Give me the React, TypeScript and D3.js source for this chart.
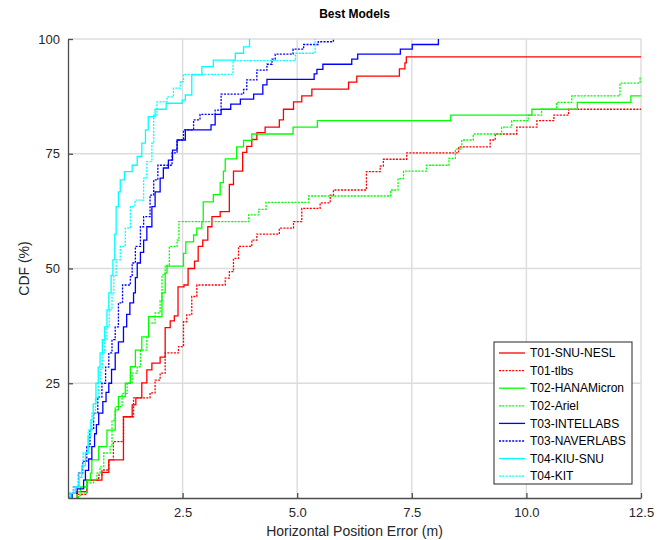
import React, { useEffect, useRef } from "react";
import * as d3 from "d3";

// step points: error (m) and CDF (%)
const snuNeslErr = [0.20, 0.20, 0.41, 0.74, 0.89, 1.21, 1.40, 1.48, 1.61, 1.72, 1.83, 2.01, 2.12, 2.23, 2.32, 2.40, 2.53, 2.62, 2.76, 2.84, 2.94, 3.05, 3.14, 3.32, 3.52, 3.61, 3.81, 3.90, 4.01, 4.12, 4.30, 4.61, 4.70, 4.92, 5.10, 5.32, 6.12, 6.30, 7.23, 7.35, 7.38, 12.6];
const snuNeslCdf = [0, 1.4, 3.9, 5.6, 8.3, 17.7, 20.3, 21.8, 25.1, 27.9, 29.4, 30.7, 37.1, 38.6, 39.7, 46.0, 46.4, 50.0, 51.6, 54.8, 56.2, 59.1, 61.3, 62.4, 68.3, 71.2, 75.3, 76.6, 78.1, 79.6, 80.8, 82.4, 84.7, 86.3, 87.6, 89.1, 90.6, 91.9, 93.5, 94.8, 96.1, 96.1];

const tlbsErr = [0.22, 0.22, 0.41, 0.67, 0.74, 0.89, 0.99, 1.21, 1.43, 1.79, 1.90, 2.01, 2.12, 2.41, 2.52, 2.59, 2.70, 2.81, 3.43, 3.52, 3.61, 3.72, 4.01, 4.12, 4.61, 4.92, 5.10, 5.50, 5.72, 5.79, 6.51, 6.81, 6.88, 7.39, 8.52, 9.21, 9.32, 9.79, 10.23, 10.60, 10.92, 12.6];
const tlbsCdf = [0, 0.8, 3.9, 5.0, 6.1, 8.3, 12.3, 17.7, 21.8, 22.9, 25.7, 27.2, 31.6, 33.0, 38.4, 39.9, 43.9, 46.4, 47.9, 49.3, 52.2, 54.8, 56.2, 57.5, 58.8, 60.2, 63.1, 64.3, 66.0, 67.1, 71.1, 72.3, 73.8, 75.2, 76.5, 78.0, 79.3, 80.8, 82.2, 83.4, 84.7, 84.7];

const hanaErr = [0.20, 0.20, 0.27, 0.41, 0.49, 0.52, 0.67, 0.85, 1.03, 1.10, 1.25, 1.36, 1.47, 1.61, 1.76, 2.05, 2.12, 2.16, 2.52, 2.57, 2.74, 2.81, 2.92, 2.95, 3.17, 3.32, 3.39, 3.43, 3.68, 3.83, 4.01, 4.91, 5.44, 8.35, 10.12, 11.11, 12.28, 12.6];
const hanaCdf = [0, 1.4, 2.4, 3.9, 5.4, 8.3, 11.2, 14.8, 19.2, 22.1, 25.0, 28.6, 32.2, 35.1, 39.5, 44.7, 49.0, 50.5, 53.3, 55.8, 57.3, 58.8, 60.2, 64.5, 66.1, 68.7, 71.2, 73.9, 76.5, 77.9, 79.3, 80.8, 82.2, 83.4, 84.7, 86.2, 87.6, 87.6];

const arielErr = [0.23, 0.23, 0.27, 0.41, 0.56, 0.63, 0.70, 0.78, 0.92, 0.96, 1.03, 1.18, 1.29, 1.40, 1.51, 1.58, 1.72, 1.76, 1.90, 2.01, 2.05, 2.12, 2.21, 2.38, 2.42, 3.94, 4.16, 4.32, 5.25, 7.04, 7.20, 7.32, 7.82, 8.31, 8.45, 8.59, 8.84, 9.46, 9.68, 10.04, 10.33, 10.66, 10.99, 12.04, 12.48, 12.6];
const arielCdf = [0, 0.5, 1.1, 3.3, 3.9, 5.4, 6.8, 9.8, 11.2, 16.9, 19.9, 22.8, 25.1, 27.2, 28.6, 32.2, 35.0, 38.1, 40.3, 43.0, 48.6, 50.7, 54.8, 56.2, 60.2, 61.7, 62.9, 64.4, 65.8, 67.1, 69.6, 71.2, 72.5, 74.0, 76.0, 78.0, 79.3, 80.8, 82.2, 83.4, 84.7, 86.2, 87.6, 90.4, 91.7, 91.7];

const intelErr = [0.09, 0.09, 0.20, 0.34, 0.38, 0.45, 0.52, 0.58, 0.62, 0.67, 0.76, 0.83, 0.89, 0.95, 1.03, 1.10, 1.21, 1.28, 1.35, 1.43, 1.47, 1.51, 1.58, 1.65, 1.72, 1.83, 1.90, 2.01, 2.08, 2.19, 2.28, 2.38, 2.56, 3.12, 3.21, 3.34, 3.55, 3.76, 4.05, 4.25, 4.34, 5.37, 5.43, 5.56, 6.19, 6.32, 7.25, 7.51, 8.08];
const intelCdf = [0, 1.0, 2.0, 3.9, 6.0, 8.5, 11.2, 14.0, 16.0, 18.5, 21.0, 23.0, 25.0, 28.0, 31.6, 34.0, 37.3, 40.0, 42.5, 44.7, 48.0, 51.2, 53.5, 56.2, 59.1, 63.5, 66.7, 69.7, 71.9, 73.6, 75.8, 78.0, 80.2, 81.3, 83.6, 84.7, 85.8, 86.9, 88.0, 90.0, 91.2, 92.4, 93.4, 94.5, 95.6, 96.7, 97.8, 98.8, 100];

const naverErr = [0.05, 0.05, 0.12, 0.23, 0.32, 0.41, 0.48, 0.56, 0.65, 0.74, 0.82, 0.89, 0.96, 1.03, 1.10, 1.19, 1.36, 1.40, 1.47, 1.58, 1.65, 1.79, 1.87, 1.96, 2.27, 2.38, 2.52, 2.74, 2.88, 3.21, 3.34, 3.83, 3.90, 4.12, 4.34, 4.45, 4.52, 4.91, 5.14, 5.46, 5.79];
const naverCdf = [0, 1.0, 2.4, 5.4, 8.0, 11.2, 15.0, 18.5, 22.0, 25.0, 28.5, 31.6, 34.5, 37.3, 42.5, 46.4, 48.2, 51.2, 54.8, 59.1, 61.3, 66.0, 69.3, 72.5, 75.2, 78.0, 80.2, 82.4, 83.6, 84.5, 88.0, 89.0, 91.1, 93.2, 94.5, 95.6, 96.7, 97.8, 98.8, 99.4, 100];

const kiuErr = [0.05, 0.05, 0.16, 0.24, 0.30, 0.38, 0.44, 0.50, 0.55, 0.61, 0.66, 0.70, 0.75, 0.80, 0.85, 0.89, 0.94, 0.98, 1.02, 1.05, 1.10, 1.14, 1.23, 1.40, 1.51, 1.61, 1.69, 1.75, 1.90, 2.14, 2.49, 2.56, 2.70, 2.92, 3.17, 3.65, 3.83, 3.96];
const kiuCdf = [0, 1.0, 2.4, 4.5, 7.0, 9.8, 13.5, 17.0, 20.5, 25.0, 28.5, 31.6, 34.5, 37.3, 41.0, 44.7, 48.5, 51.9, 57.5, 63.5, 66.7, 69.3, 71.1, 72.5, 74.4, 77.3, 80.2, 83.1, 84.7, 86.0, 86.7, 87.8, 92.2, 94.0, 95.4, 96.9, 98.3, 100];

const kitErr = [0.05, 0.05, 0.12, 0.22, 0.33, 0.44, 0.52, 0.60, 0.67, 0.71, 0.75, 0.80, 0.85, 0.90, 0.96, 1.00, 1.05, 1.14, 1.25, 1.36, 1.46, 1.65, 1.72, 1.83, 1.87, 1.94, 2.16, 2.30, 2.45, 2.52, 3.60, 4.96, 5.39];
const kitCdf = [0, 1.0, 2.4, 5.4, 9.8, 14.8, 18.5, 21.8, 25.0, 28.0, 31.6, 34.5, 37.3, 41.0, 44.7, 48.5, 51.9, 54.8, 58.8, 63.5, 64.9, 69.7, 73.3, 77.3, 83.4, 86.3, 87.4, 89.3, 90.7, 92.3, 95.3, 96.9, 100];

const seriesNames = ["T01-SNU-NESL", "T01-tlbs", "T02-HANAMicron", "T02-Ariel", "T03-INTELLABS", "T03-NAVERLABS", "T04-KIU-SNU", "T04-KIT"];
const seriesErr = [snuNeslErr, tlbsErr, hanaErr, arielErr, intelErr, naverErr, kiuErr, kitErr];
const seriesCdf = [snuNeslCdf, tlbsCdf, hanaCdf, arielCdf, intelCdf, naverCdf, kiuCdf, kitCdf];
const seriesColor = ["#ff0000", "#ff0000", "#00ff00", "#00ff00", "#0000ff", "#0000ff", "#00ffff", "#00ffff"];
const seriesDotted = [false, true, false, true, false, true, false, true];

const xTicks = [2.5, 5, 7.5, 10, 12.5];
const yTicks = [25, 50, 75, 100];

const FONT = "'Liberation Sans', Arial, sans-serif";

export default function App() {
  const ref = useRef<SVGSVGElement>(null);

  useEffect(() => {
    const width = 667, height = 540;
    const margin = { top: 39, right: 26, bottom: 42, left: 68 };
    const w = width - margin.left - margin.right;
    const h = height - margin.top - margin.bottom;

    const svg = d3.select(ref.current);
    svg.selectAll("*").remove();
    svg.append("rect").attr("width", width).attr("height", height).attr("fill", "#fff");

    const g = svg.append("g").attr("transform", `translate(${margin.left},${margin.top})`);

    const x = d3.scaleLinear().domain([0, 12.5]).range([0, w]);
    const y = d3.scaleLinear().domain([0, 100]).range([h, 0]);

    // grid
    g.selectAll(".vgrid").data(xTicks).join("line")
      .attr("x1", d => x(d)).attr("x2", d => x(d))
      .attr("y1", 0).attr("y2", h)
      .attr("stroke", "#dcdcdc").attr("stroke-width", 1.4);
    g.selectAll(".hgrid").data(yTicks).join("line")
      .attr("x1", 0).attr("x2", w)
      .attr("y1", d => y(d)).attr("y2", d => y(d))
      .attr("stroke", "#dcdcdc").attr("stroke-width", 1.4);

    // curves
    g.append("clipPath").attr("id", "plotclip")
      .append("rect").attr("x", 0).attr("y", -1).attr("width", w).attr("height", h + 1);

    const curves = g.append("g").attr("clip-path", "url(#plotclip)");
    seriesNames.forEach((name, i) => {
      const pts: [number, number][] = seriesErr[i].map((e, k) => [x(e), y(seriesCdf[i][k])]);
      const path = d3.line().curve(d3.curveStepAfter)(pts);
      curves.append("path")
        .attr("d", path)
        .attr("fill", "none")
        .attr("stroke", seriesColor[i])
        .attr("stroke-width", 1.3)
        .attr("stroke-dasharray", seriesDotted[i] ? "2,1.3" : null);
    });

    // axes
    const xAxis = g.append("g")
      .attr("transform", `translate(0,${h})`)
      .call(d3.axisBottom(x).tickValues(xTicks).tickFormat(d3.format(".1f")).tickSize(-5).tickSizeOuter(0).tickPadding(10));
    const yAxis = g.append("g")
      .call(d3.axisLeft(y).tickValues(yTicks).tickSize(-5).tickSizeOuter(0).tickPadding(8));

    [xAxis, yAxis].forEach(ax => {
      ax.select(".domain").attr("stroke", "#4d4d4d").attr("stroke-width", 1.3);
      ax.selectAll(".tick line").attr("stroke", "#4d4d4d").attr("stroke-width", 1.3);
      ax.selectAll(".tick text").attr("fill", "#262626").style("font-family", FONT).style("font-size", "13px");
    });

    // labels
    svg.append("text")
      .attr("x", margin.left + w / 2).attr("y", 18)
      .attr("text-anchor", "middle")
      .style("font-family", FONT).style("font-size", "12px").style("font-weight", "bold")
      .attr("fill", "#000")
      .text("Best Models");

    svg.append("text")
      .attr("x", margin.left + w / 2).attr("y", 536)
      .attr("text-anchor", "middle")
      .style("font-family", FONT).style("font-size", "14px")
      .attr("fill", "#262626")
      .text("Horizontal Position Error (m)");

    svg.append("text")
      .attr("transform", `translate(29,${margin.top + h / 2}) rotate(-90)`)
      .attr("text-anchor", "middle")
      .style("font-family", FONT).style("font-size", "14px")
      .attr("fill", "#262626")
      .text("CDF (%)");

    // legend
    const lg = svg.append("g").attr("transform", "translate(494,342)");
    lg.append("rect")
      .attr("width", 138).attr("height", 142)
      .attr("fill", "#fff").attr("stroke", "#262626").attr("stroke-width", 1);
    const rows = lg.selectAll(".row").data(seriesNames).join("g")
      .attr("transform", (d, i) => `translate(0,${11 + i * 17.6})`);
    rows.append("line")
      .attr("x1", 5).attr("x2", 31)
      .attr("stroke", (d, i) => seriesColor[i])
      .attr("stroke-width", 1.3)
      .attr("stroke-dasharray", (d, i) => seriesDotted[i] ? "2,1.3" : null);
    rows.append("text")
      .attr("x", 36).attr("dy", "0.35em")
      .style("font-family", FONT).style("font-size", "12px")
      .attr("fill", "#000")
      .text(d => d);
  }, []);

  return (
    <svg ref={ref} width={667} height={540} style={{ position: "absolute", left: 0, top: 0 }} />
  );
}
